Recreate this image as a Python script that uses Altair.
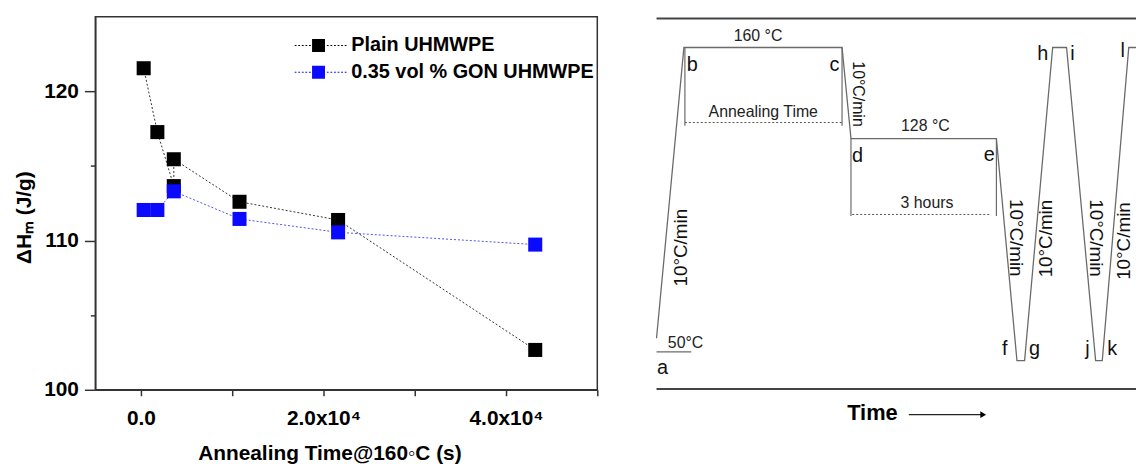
import altair as alt
import pandas as pd

FONT = "Liberation Sans"

# ---------------- Left panel data ----------------
series_names = ["Plain UHMWPE", "0.35 vol % GON UHMWPE"]
plain_time = [300, 1800, 3600, 3600, 10800, 21600, 43200]
plain_dh = [121.55, 117.27, 113.65, 115.45, 112.6, 111.38, 102.67]
gon_time = [300, 1800, 3600, 10800, 21600, 43200]
gon_dh = [112.05, 112.05, 113.3, 111.45, 110.55, 109.73]

x_ticks = [0, 10000, 20000, 30000, 40000, 50000]
y_ticks = [100, 105, 110, 115, 120]

# ---------------- Right panel (schematic) data ----------------
# time in arbitrary units, temperature in deg C (schematic)
profile_t = [20.7, 48.3, 207.7, 216.7, 363.3, 384.0, 391.7, 420.0, 434.0, 463.3, 470.0, 496.7, 520.0]
profile_T = [55.0, 160.0, 160.0, 127.1, 127.1, 46.9, 46.9, 160.0, 160.0, 46.9, 46.9, 160.0, 160.0]

drop_t = [49.3, 207.7, 216.7, 363.3]
drop_T1 = [160.0, 160.0, 127.1, 127.1]
drop_T2 = [131.7, 131.7, 99.1, 99.1]

dotted_t1 = [49.3, 218.0]
dotted_t2 = [207.7, 356.7]
dotted_T = [132.9, 99.7]

base_t1 = [20.7]
base_t2 = [55.7]
base_T = [50.1]

frame_t1 = [20.7, 20.7]
frame_t2 = [520.0, 520.0]
frame_T = [170.5, 36.7]

note_labels = ["160 °C", "Annealing Time", "128 °C", "3 hours", "50°C"]
note_t = [123.0, 128.3, 291.7, 293.3, 50.0]
note_T = [164.3, 136.7, 131.7, 103.9, 53.4]

point_labels = ["a", "b", "c", "d", "e", "f", "g", "h", "i", "j", "k", "l"]
point_t = [26.7, 56.7, 200.0, 223.3, 356.0, 371.7, 401.7, 410.0, 440.0, 455.0, 480.0, 490.7]
point_T = [42.1, 151.6, 151.6, 118.8, 119.0, 48.9, 48.9, 155.6, 155.6, 48.9, 48.9, 156.4]

rate_up_t = [45.0, 413.3, 492.0]
rate_up_T = [87.7, 91.0, 90.1]
rate_down_t = [383.3, 464.0]
rate_down_T = [91.3, 91.2]
rate_small_t = [224.0]
rate_small_T = [143.2]
rate_label = "10°C/min"

time_label_t = [238.3]
time_label_T = [28.0]
arrow_t1 = [275.0]
arrow_t2 = [350.0]
arrow_T = [27.4]

# ---------------- Left panel ----------------
plain_df = pd.DataFrame({"time": plain_time, "dh": plain_dh,
                         "series": series_names[0], "idx": range(len(plain_time))})
gon_df = pd.DataFrame({"time": gon_time, "dh": gon_dh,
                       "series": series_names[1], "idx": range(len(gon_time))})
left_df = pd.concat([plain_df, gon_df], ignore_index=True)

# legend symbol: square with dotted line through it
u = 7.0  # px per unit for symbolSize 196
parts = ["M-0.93,-0.93H0.93V0.93H-0.93Z"]
xs = -24.0
while xs < 27.0:
    if xs + 1.8 < -6.5 or xs > 6.5:
        parts.append("M{:.3f},{:.3f}H{:.3f}V{:.3f}H{:.3f}Z".format(
            xs / u, -0.5 / u, (xs + 1.8) / u, 0.5 / u, xs / u))
    xs += 3.6
legend_symbol = "".join(parts)

x_left = alt.X("time:Q", scale=alt.Scale(domain=[-5000, 50000], nice=False, zero=False),
               axis=alt.Axis(values=x_ticks, title="Annealing Time@160◦C (s)",
                             labelExpr="datum.value == 0 ? '0.0' : (datum.value % 20000 == 0 ? format(datum.value/10000, '.1f') + 'x10⁴' : '')",
                             tickSize=6, labelPadding=12, titlePadding=14, titleX=236,
                             labelFlush=False))
y_left = alt.Y("dh:Q", scale=alt.Scale(domain=[100, 125], nice=False, zero=False),
               axis=alt.Axis(values=y_ticks, title="ΔHₘ (J/g)",
                             labelExpr="datum.value % 10 == 0 ? datum.value : ''",
                             tickSize=alt.condition("datum.value % 10 == 0", alt.value(11), alt.value(5)),
                             labelPadding=6, titlePadding=9, titleY=202))

lines = alt.Chart(left_df).mark_line(strokeWidth=1, strokeDash=[2, 2]).encode(
    x=x_left, y=y_left,
    color=alt.Color("series:N", scale=alt.Scale(domain=series_names, range=["#333333", "#5050f0"]),
                    legend=None),
    detail="series:N",
    order="idx:Q",
)
points = alt.Chart(left_df).mark_point(shape="square", filled=True, opacity=1, size=200).encode(
    x=x_left, y=y_left,
    color=alt.Color("series:N", scale=alt.Scale(domain=series_names, range=["#000000", "#0a0aff"]),
                    legend=alt.Legend(title=None, orient="none", legendX=215, legendY=19,
                                      symbolType=legend_symbol, symbolSize=196,
                                      symbolStrokeWidth=0, labelOffset=23, rowPadding=7,
                                      labelFontSize=20, labelFontWeight="bold", labelFont=FONT,
                                      labelLimit=400, labelColor="#000000", padding=0)),
)
left = alt.layer(lines, points).resolve_scale(color="independent").properties(
    width=506, height=376,
    view=alt.ViewBackground(stroke="#333333", strokeWidth=1.5))

# ---------------- Right panel ----------------
X_R = alt.Scale(domain=[0, 504], nice=False, zero=False)
Y_R = alt.Scale(domain=[18.47, 171.10], nice=False, zero=False)


def xr(f):
    return alt.X(f, scale=X_R, axis=None)


def yr(f):
    return alt.Y(f, scale=Y_R, axis=None)


prof_df = pd.DataFrame({"t": profile_t, "T": profile_T, "i": range(len(profile_t))})
profile = alt.Chart(prof_df).mark_line(color="#6a6a6a", strokeWidth=1.3, clip=True).encode(
    x=xr("t:Q"), y=yr("T:Q"), order="i:Q")

drops = alt.Chart(pd.DataFrame({"t": drop_t, "T": drop_T1, "T2": drop_T2})).mark_rule(
    color="#6a6a6a", strokeWidth=1.2, clip=True).encode(x=xr("t:Q"), y=yr("T:Q"), y2="T2:Q")

dotted = alt.Chart(pd.DataFrame({"t": dotted_t1, "t2": dotted_t2, "T": dotted_T})).mark_rule(
    color="#555555", strokeWidth=1, strokeDash=[2, 2], clip=True).encode(
    x=xr("t:Q"), x2="t2:Q", y=yr("T:Q"))

base = alt.Chart(pd.DataFrame({"t": base_t1, "t2": base_t2, "T": base_T})).mark_rule(
    color="#6a6a6a", strokeWidth=1.2, clip=True).encode(x=xr("t:Q"), x2="t2:Q", y=yr("T:Q"))

frame = alt.Chart(pd.DataFrame({"t": frame_t1, "t2": frame_t2, "T": frame_T})).mark_rule(
    color="#444444", strokeWidth=2, clip=True).encode(x=xr("t:Q"), x2="t2:Q", y=yr("T:Q"))

notes = alt.Chart(pd.DataFrame({"label": note_labels, "t": note_t, "T": note_T})).mark_text(
    font=FONT, fontSize=16, color="#222222", align="center", baseline="middle", clip=True).encode(
    x=xr("t:Q"), y=yr("T:Q"), text="label:N")

letters = alt.Chart(pd.DataFrame({"label": point_labels, "t": point_t, "T": point_T})).mark_text(
    font=FONT, fontSize=20, color="#111111", align="center", baseline="alphabetic", clip=True).encode(
    x=xr("t:Q"), y=yr("T:Q"), text="label:N")

rate_up = alt.Chart(pd.DataFrame({"label": rate_label, "t": rate_up_t, "T": rate_up_T})).mark_text(
    font=FONT, fontSize=19, color="#111111", align="center", baseline="middle", angle=270,
    clip=True).encode(x=xr("t:Q"), y=yr("T:Q"), text="label:N")

rate_down = alt.Chart(pd.DataFrame({"label": rate_label, "t": rate_down_t, "T": rate_down_T})).mark_text(
    font=FONT, fontSize=19, color="#111111", align="center", baseline="middle", angle=90,
    clip=True).encode(x=xr("t:Q"), y=yr("T:Q"), text="label:N")

rate_small = alt.Chart(pd.DataFrame({"label": rate_label, "t": rate_small_t, "T": rate_small_T})).mark_text(
    font=FONT, fontSize=16, color="#111111", align="center", baseline="middle", angle=90,
    clip=True).encode(x=xr("t:Q"), y=yr("T:Q"), text="label:N")

time_text = alt.Chart(pd.DataFrame({"label": ["Time"], "t": time_label_t, "T": time_label_T})).mark_text(
    font=FONT, fontSize=22, fontWeight="bold", color="#000000", align="center", baseline="middle",
    clip=True).encode(x=xr("t:Q"), y=yr("T:Q"), text="label:N")

arrow_df = pd.DataFrame({"t": arrow_t1, "t2": arrow_t2, "T": arrow_T})
arrow_line = alt.Chart(arrow_df).mark_rule(color="#222222", strokeWidth=1.2, clip=True).encode(
    x=xr("t:Q"), x2="t2:Q", y=yr("T:Q"))
arrow_head = alt.Chart(arrow_df).mark_point(shape="triangle-right", filled=True, size=45,
                                            color="#000000", opacity=1, clip=True).encode(
    x=xr("t2:Q"), y=yr("T:Q"))

right = alt.layer(frame, profile, drops, dotted, base, notes, letters, rate_up, rate_down,
                  rate_small, time_text, arrow_line, arrow_head).properties(
    width=504, height=426, view=alt.ViewBackground(stroke=None))

chart = alt.hconcat(left, right, spacing=37).resolve_scale(
    x="independent", y="independent", color="independent"
).properties(
    padding={"left": 5, "top": 6, "right": 0, "bottom": 0}
).configure(font=FONT).configure_axis(
    labelFont=FONT, labelFontSize=21, labelFontWeight="bold", labelColor="#000000",
    titleFont=FONT, titleFontSize=21, titleFontWeight="bold", titleColor="#000000",
    domainColor="#333333", domainWidth=1.5, tickColor="#333333", tickWidth=1.5, grid=False,
)

chart.save("out.html", embed_options={"renderer": "svg", "actions": False})
